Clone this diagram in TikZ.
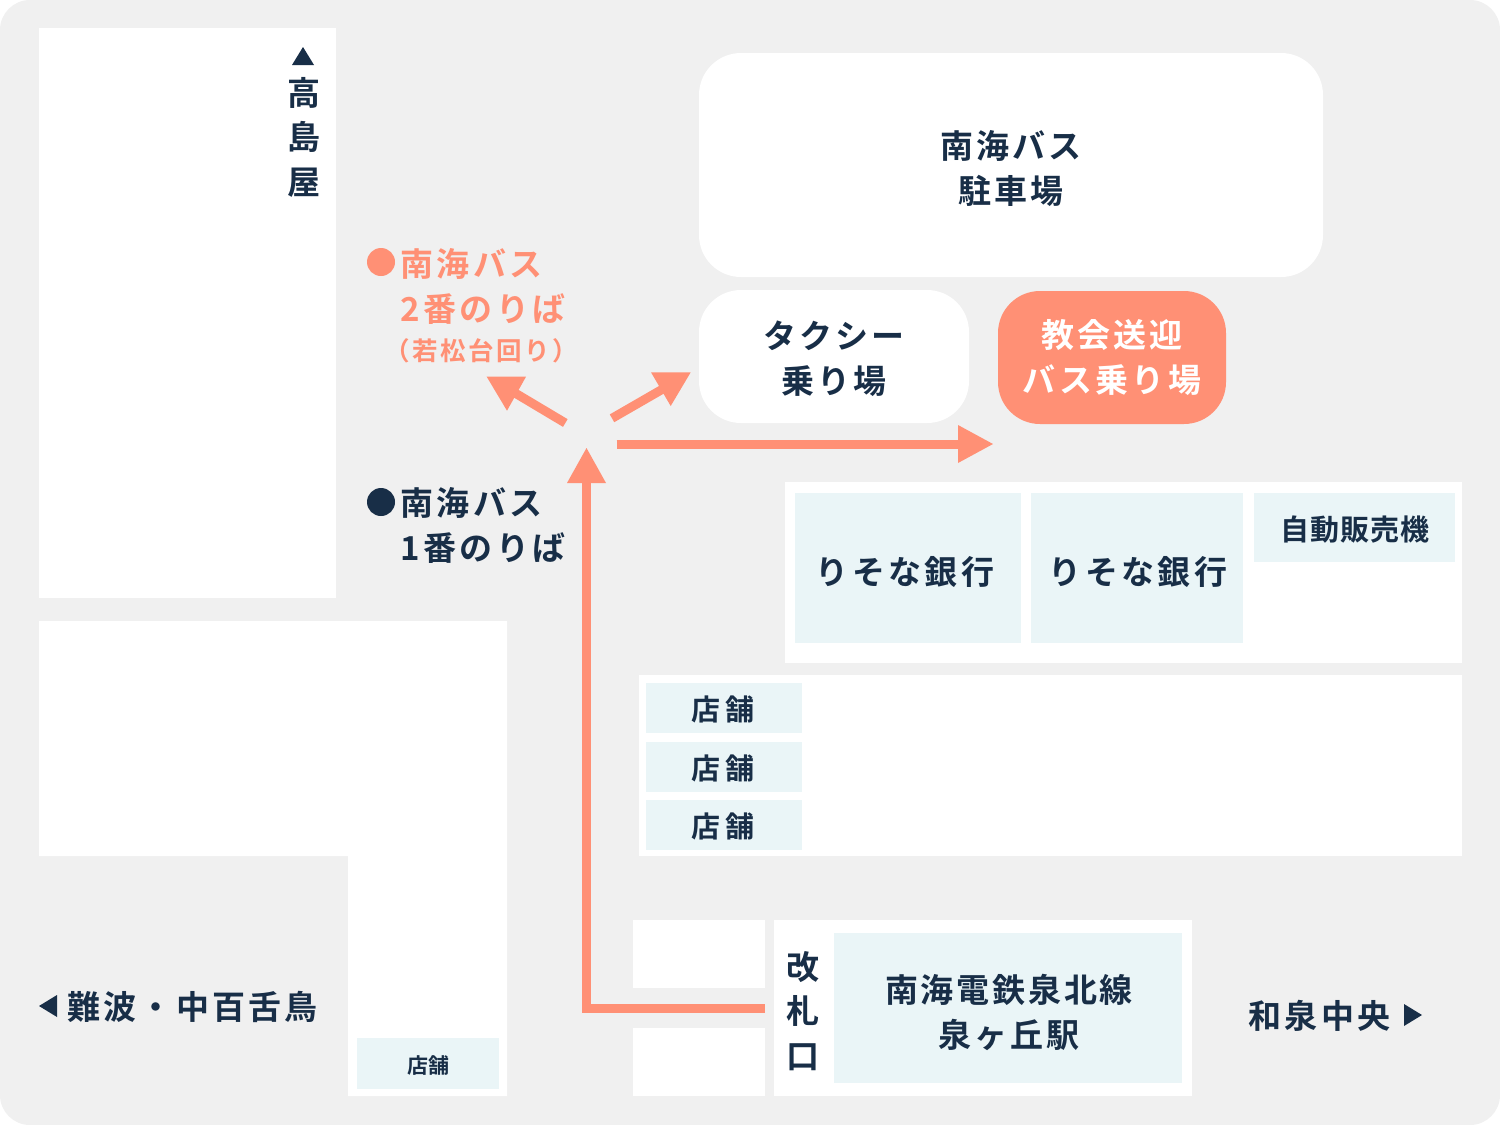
\documentclass[tikz,border=0pt]{standalone}
\usepackage{fontspec}
\setmainfont{Noto Sans CJK JP}[BoldFont={Noto Sans CJK JP Bold}]
\newfontfamily\jpwide{Noto Sans CJK JP Bold}[LetterSpace=10]
\newfontfamily\jpline{Noto Sans CJK JP Bold}[LetterSpace=8.5]
\newfontfamily\jpnarrow{Noto Sans CJK JP Bold}[LetterSpace=3]
\newfontfamily\jpmid{Noto Sans CJK JP Bold}[LetterSpace=10]
\newfontfamily\jpshop{Noto Sans CJK JP Bold}[LetterSpace=14]
\usetikzlibrary{arrows.meta}
\definecolor{bg}{HTML}{F0F0F0}
\definecolor{navy}{HTML}{182E47}
\definecolor{coral}{HTML}{FF9075}
\definecolor{pale}{HTML}{EAF5F7}
\tikzset{
 wbox/.style={fill=white,draw=none},
 pbox/.style={fill=pale,draw=none},
 lab/.style={font=\jpwide\fontsize{33}{44.5}\selectfont,text=navy,align=center,inner sep=0pt,text depth=0pt},
 labc/.style={lab,text=coral},
 stn/.style={lab,font=\jpline\fontsize{33}{44.5}\selectfont},
 vend/.style={lab,font=\jpnarrow\fontsize{29}{40}\selectfont},
 small/.style={lab,font=\jpshop\fontsize{29}{40}\selectfont},
 tiny/.style={lab,font=\bfseries\fontsize{21}{28}\selectfont},
 sub/.style={labc,font=\jpmid\fontsize{25.5}{30}\selectfont},
 route/.style={draw=coral,line width=9pt},
}
\begin{document}
\begin{tikzpicture}[x=1pt,y=-1pt]
\useasboundingbox (0,0) rectangle (1500,1125);
\fill[white] (0,0) rectangle (1500,1125);
\fill[bg,rounded corners=30pt] (0,0) rectangle (1500,1125);
% white blocks
\fill[wbox] (39,28) rectangle (336,598);
\fill[wbox] (39,621) -- (507,621) -- (507,1096) -- (348,1096) -- (348,856) -- (39,856) -- cycle;
\fill[wbox,rounded corners=42pt] (699,53) rectangle (1323,277);
\fill[wbox,rounded corners=42pt] (699,290) rectangle (969,423);
\fill[coral,rounded corners=42pt] (998,291) rectangle (1226,424);
\fill[wbox] (785,482) rectangle (1462,663);
\fill[wbox] (639,675) rectangle (1462,856);
\fill[wbox] (633,920) rectangle (765,988);
\fill[wbox] (633,1028) rectangle (765,1096);
\fill[wbox] (774,920) rectangle (1192,1096);
% pale blocks
\fill[pbox] (795,493) rectangle (1021,643);
\fill[pbox] (1031,493) rectangle (1243,643);
\fill[pbox] (1254,493) rectangle (1455,562);
\fill[pbox] (646,683) rectangle (802,733);
\fill[pbox] (646,742) rectangle (802,792);
\fill[pbox] (646,800) rectangle (802,850);
\fill[pbox] (357,1038) rectangle (499,1089);
\fill[pbox] (834,933) rectangle (1182,1083);
% labels
\node[lab] (t1) at (1011,167) {南海バス\\駐車場};
\node[lab] (t2) at (834,357) {タクシー\\乗り場};
\node[lab,text=white] (t3) at (1112,356) {教会送迎\\バス乗り場};
\node[lab] (t4) at (905,570.5) {りそな銀行};
\node[lab] (t5) at (1138,570.5) {りそな銀行};
\node[vend] (t6) at (1355,528) {自動販売機};
\node[small] (s1) at (723,708) {店舗};
\node[small] (s2) at (723,767) {店舗};
\node[small] (s3) at (723,825) {店舗};
\node[tiny] (s4) at (428,1065) {店舗};
\node[stn] (t7) at (1009,1011) {南海電鉄泉北線\\泉ヶ丘駅};
\node[lab] (t8) at (803,1009.5) {改\\札\\口};
\node[lab] (t9) at (303.5,135.5) {高\\島\\屋};
\node[lab,anchor=west] (t10) at (67,1005.5) {難波・中百舌鳥};
\node[lab,anchor=west] (t11) at (1248.5,1014) {和泉中央};
\node[labc,anchor=west] (b2) at (400.5,262) {南海バス};
\node[labc,anchor=west] (b2a) at (400.5,308) {2番のりば};
\node[sub,anchor=west] (b2b) at (384,349.5) {（若松台回り）};
\node[lab,anchor=west] (b1) at (400.5,501) {南海バス};
\node[lab,anchor=west] (b1a) at (400.5,547) {1番のりば};
% markers
\fill[coral] (381,262) circle (14pt);
\fill[navy] (381,502) circle (14pt);
\fill[navy] (292,65) -- (314,65) -- (303,47) -- cycle;
\fill[navy] (57,995) -- (57,1017) -- (39,1006) -- cycle;
\fill[navy] (1404,1004) -- (1404,1026) -- (1422,1015) -- cycle;
% arrows
\coordinate (gate) at (765,1008);
\coordinate (up) at (586.5,448);
\draw[route,miter limit=10] (gate) -- (586.5,1008) -- (586.5,480);
\fill[coral] (up) -- (567,483) -- (606,483) -- cycle;
\coordinate (r0) at (616.5,444);
\coordinate (r1) at (993,444);
\draw[route] (r0) -- (960,444);
\fill[coral] (r1) -- (958,425) -- (958,463) -- cycle;
\coordinate (a0) at (565.3,423);
\draw[route] (a0) -- (510,390);
\fill[coral] (486.7,376.7) -- (526,376.7) -- (507,410.7) -- cycle;
\coordinate (c0) at (612,418.3);
\draw[route] (c0) -- (668,386);
\fill[coral] (690.7,372.3) -- (651,372.3) -- (670.7,406) -- cycle;
\end{tikzpicture}
\end{document}
